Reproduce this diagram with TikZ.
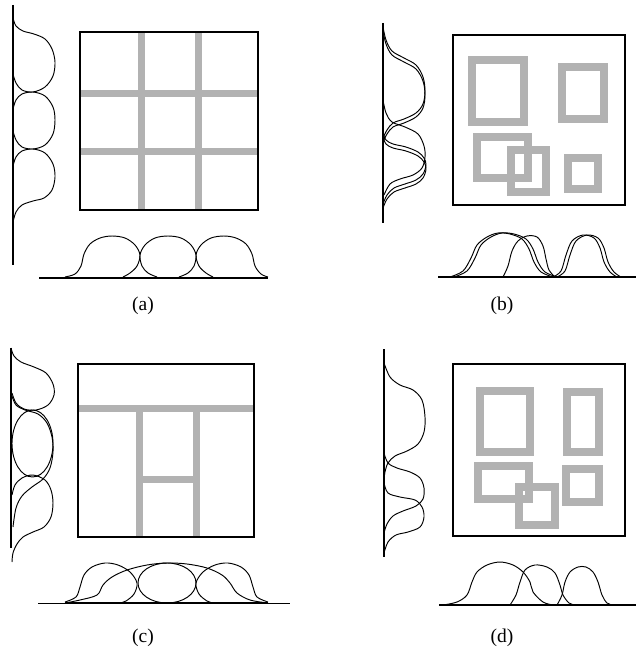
\documentclass[tikz,border=0pt]{standalone}
\usepackage{fontspec}
\setmainfont{Liberation Serif}
\definecolor{barcol}{gray}{0.7}
\begin{document}
\begin{tikzpicture}[x=1pt,y=-1pt,
  axisline/.style={line width=1.4pt},
  prof/.style={line width=0.95pt, line join=round},
  frame/.style={line width=1.8pt},
  bar/.style={fill=barcol, draw=none},
  ring/.style={draw=barcol, line width=7.5pt},
  lab/.style={font=\fontsize{19.5}{22}\selectfont, inner sep=0pt}]
\useasboundingbox (0,0) rectangle (636,650);

% ================= (a) =================
\fill[bar] (137.5,32) rectangle (144.5,210);
\fill[bar] (194.5,32) rectangle (201.5,210);
\fill[bar] (80,90.5) rectangle (258,97.5);
\fill[bar] (80,147.5) rectangle (258,154.5);
\draw[frame] (80,32) rectangle (258,210);
\draw[axisline] (13,5) -- (13,265);
\draw[axisline] (39,278) -- (268,278);
\draw[prof] plot[smooth,tension=0.55] coordinates {(13,18) (16,26) (23,31) (34,34) (45,39) (52,49) (55,62) (53,76) (45,87) (33,92) (22,90) (16,83) (13,74)};
\draw[prof] plot[smooth,tension=0.55] coordinates {(13,109) (16,100) (22,94) (33,92) (45,96) (53,107) (55,120) (53,134) (45,145) (33,149) (22,147) (16,140) (13,131)};
\draw[prof] plot[smooth,tension=0.55] coordinates {(13,166) (16,157) (22,151) (33,149) (45,153) (53,164) (55,177) (52,190) (44,198) (33,201) (22,205) (16,212) (13,222)};
\draw[prof] plot[smooth,tension=0.55] coordinates {(65,277) (75,274) (81,266) (84,254) (90,244) (100,238) (112,236) (125,238) (135,245) (140,255) (137,266) (130,273) (123,277)};
\draw[prof] plot[smooth,tension=0.55] coordinates {(157,277) (148,273) (142,266) (140,255) (145,245) (155,238) (168,236) (181,238) (191,245) (196,255) (194,266) (188,273) (179,277)};
\draw[prof] plot[smooth,tension=0.55] coordinates {(213,277) (206,273) (199,266) (196,255) (201,245) (211,238) (224,236) (236,238) (246,244) (252,254) (255,266) (261,274) (268,277)};
\node[lab] (la) at (143,306) {(a)};

% ================= (b) =================
\draw[ring] (472,60) rectangle (524,122);
\draw[ring] (562,67) rectangle (604,119);
\draw[ring] (477,137) rectangle (528,178);
\draw[ring] (511,150) rectangle (546,192);
\draw[ring] (568,158) rectangle (598,189);
\draw[frame] (453,35) rectangle (625,205);
\draw[axisline] (383,23) -- (383,223);
\draw[axisline] (438,277) -- (636,277);
\foreach \s in {0,-4}{
  \draw[prof,yshift=\s pt] plot[smooth,tension=0.55] coordinates {(383,27) (386,40) (392,51) (404,58) (416,65) (423,77) (425,91) (423,104) (416,113) (404,119) (393,123) (387,130) (383,138)};
  \draw[prof,yshift=\s pt] plot[smooth,tension=0.55] coordinates {(383,133) (386,140) (393,144) (406,147) (418,152) (424,158) (426,165) (423,174) (416,180) (405,184) (394,188) (387,195) (383,204)};
}
\draw[prof] plot[smooth,tension=0.55] coordinates {(383,100) (386,113) (392,122) (405,127) (418,134) (424,146) (425,157) (422,168) (413,175) (400,179) (390,184) (384,195)};
\foreach \s in {0,4}{
  \draw[prof,xshift=\s pt] plot[smooth,tension=0.55] coordinates {(450,277) (463,271) (471,258) (477,245) (487,237) (498,233) (510,234) (522,239) (529,249) (534,262) (541,272) (553,277)};
  \draw[prof,xshift=\s pt] plot[smooth,tension=0.55] coordinates {(553,277) (561,271) (566,255) (572,241) (583,235) (594,238) (600,248) (604,262) (610,272) (617,277)};
}
\draw[prof] plot[smooth,tension=0.55] coordinates {(503,277) (508,266) (512,251) (518,241) (527,236) (537,237) (543,246) (546,259) (549,270) (555,277)};
\node[lab] (lb) at (502,306) {(b)};

% ================= (c) =================
\fill[bar] (78,404.5) rectangle (254,411.5);
\fill[bar] (135.5,408) rectangle (142.5,537);
\fill[bar] (192.5,408) rectangle (199.5,537);
\fill[bar] (139,475.5) rectangle (196,482.5);
\draw[frame] (78,364) rectangle (254,537);
\draw[axisline] (11,348) -- (11,548);
\draw[line width=0.9pt] (38,603) -- (290,603);
\draw[line width=1.8pt] (65,603) -- (268,603);
\draw[prof] plot[smooth,tension=0.55] coordinates {(11,348) (14,356) (21,362) (34,367) (46,373) (53,384) (54,395) (48,405) (36,410) (24,409) (16,403) (12,393)};
\draw[prof] (32.5,443.5) ellipse [x radius=20.5pt, y radius=33.5pt];
\draw[prof] plot[smooth,tension=0.55] coordinates {(12,396) (16,405) (25,410) (38,414) (47,423) (52,437) (53,452) (50,468) (43,479) (32,487) (22,496) (16,508) (13,527)};
\draw[prof] plot[smooth,tension=0.55] coordinates {(12,495) (15,485) (22,478) (33,475) (45,480) (51,490) (53,503) (51,517) (44,527) (33,532) (23,537) (17,544) (13,553) (12,562)};
\draw[prof] plot[smooth,tension=0.55] coordinates {(65,602) (76,597) (80,587) (84,575) (92,567) (105,563) (118,565) (130,572) (137,583) (134,594) (126,601) (120,603)};
\draw[prof] plot[smooth,tension=0.55] coordinates {(65,603) (80,600) (97,595) (103,585) (112,577) (127,570) (147,565) (167,563) (187,564) (207,568) (222,575) (230,583) (237,593) (250,600) (268,603)};
\draw[prof] (167,583) ellipse [x radius=29pt, y radius=20pt];
\draw[prof] plot[smooth,tension=0.55] coordinates {(268,602) (257,597) (253,587) (249,575) (241,567) (228,563) (215,565) (203,572) (196,583) (199,594) (207,601) (213,603)};
\node[lab] (lc) at (143,638) {(c)};

% ================= (d) =================
\draw[ring] (480,391) rectangle (530,452);
\draw[ring] (567,392) rectangle (599,452);
\draw[ring] (478,466) rectangle (529,499);
\draw[ring] (519,487) rectangle (555,525);
\draw[ring] (566,469) rectangle (599,502);
\draw[frame] (453,364) rectangle (625,536);
\draw[axisline] (384,349) -- (384,557);
\draw[axisline] (439,605) -- (636,605);
\draw[prof] plot[smooth,tension=0.55] coordinates {(384,363) (390,377) (400,385) (413,390) (422,400) (425,417) (424,432) (418,444) (407,451) (395,456) (388,463) (385,472) (384,480)};
\draw[prof] plot[smooth,tension=0.55] coordinates {(384,453) (388,463) (397,468) (410,472) (420,478) (424,488) (423,499) (416,506) (403,511) (393,516) (387,524) (384,533)};
\draw[prof] plot[smooth,tension=0.55] coordinates {(384,483) (388,493) (400,497) (415,500) (422,507) (424,517) (420,527) (408,532) (396,535) (388,542) (384,553)};
\draw[prof] plot[smooth,tension=0.55] coordinates {(443,605) (457,602) (467,595) (472,582) (477,572) (487,565) (500,562) (513,565) (523,572) (530,582) (533,592) (543,602) (553,605)};
\draw[prof] plot[smooth,tension=0.55] coordinates {(510,605) (516,595) (520,582) (525,570) (535,565) (547,567) (555,573) (560,585) (563,595) (569,603) (575,605)};
\draw[prof] plot[smooth,tension=0.55] coordinates {(557,605) (562,595) (565,582) (570,572) (578,567) (586,567) (593,572) (598,582) (602,595) (607,603) (613,605)};
\node[lab] (ld) at (502,638) {(d)};
\end{tikzpicture}
\end{document}
